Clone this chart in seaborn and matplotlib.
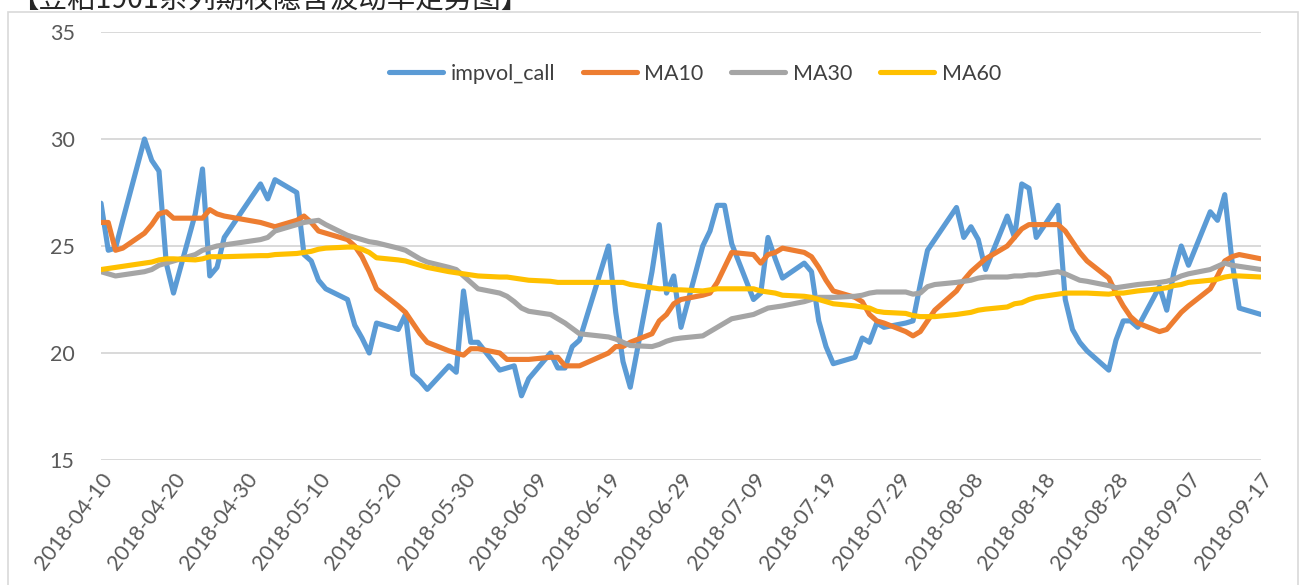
import numpy as np
import pandas as pd
import matplotlib
matplotlib.use("Agg")
import matplotlib.pyplot as plt
import matplotlib.dates as mdates
from matplotlib.patches import Rectangle
import seaborn as sns

# --- data ---
trade_dates = (
    ["2018-04-10", "2018-04-11", "2018-04-12", "2018-04-13", "2018-04-16", "2018-04-17",
     "2018-04-18", "2018-04-19", "2018-04-20", "2018-04-23", "2018-04-24", "2018-04-25",
     "2018-04-26", "2018-04-27"]
    + ["2018-05-02", "2018-05-03", "2018-05-04", "2018-05-07", "2018-05-08", "2018-05-09",
       "2018-05-10", "2018-05-11", "2018-05-14", "2018-05-15", "2018-05-16", "2018-05-17",
       "2018-05-18", "2018-05-21", "2018-05-22", "2018-05-23", "2018-05-24", "2018-05-25",
       "2018-05-28", "2018-05-29", "2018-05-30", "2018-05-31"]
    + ["2018-06-01", "2018-06-04", "2018-06-05", "2018-06-06", "2018-06-07", "2018-06-08",
       "2018-06-11", "2018-06-12", "2018-06-13", "2018-06-14", "2018-06-15", "2018-06-19",
       "2018-06-20", "2018-06-21", "2018-06-22", "2018-06-25", "2018-06-26", "2018-06-27",
       "2018-06-28", "2018-06-29"]
    + ["2018-07-02", "2018-07-03", "2018-07-04", "2018-07-05", "2018-07-06", "2018-07-09",
       "2018-07-10", "2018-07-11", "2018-07-12", "2018-07-13", "2018-07-16", "2018-07-17",
       "2018-07-18", "2018-07-19", "2018-07-20", "2018-07-23", "2018-07-24", "2018-07-25",
       "2018-07-26", "2018-07-27", "2018-07-30", "2018-07-31"]
    + ["2018-08-01", "2018-08-02", "2018-08-03", "2018-08-06", "2018-08-07", "2018-08-08",
       "2018-08-09", "2018-08-10", "2018-08-13", "2018-08-14", "2018-08-15", "2018-08-16",
       "2018-08-17", "2018-08-20", "2018-08-21", "2018-08-22", "2018-08-23", "2018-08-24",
       "2018-08-27", "2018-08-28", "2018-08-29", "2018-08-30", "2018-08-31"]
    + ["2018-09-03", "2018-09-04", "2018-09-05", "2018-09-06", "2018-09-07", "2018-09-10",
       "2018-09-11", "2018-09-12", "2018-09-13", "2018-09-14", "2018-09-17"]
)

impvol_call = [
    27.0, 24.8, 24.9, 26.2, 30.0, 29.0, 28.5, 24.2, 22.8, 26.5, 28.6, 23.6, 24.0, 25.4,
    27.9, 27.2, 28.1, 27.5, 24.6, 24.3, 23.4, 23.0, 22.5, 21.3, 20.7, 20.0, 21.4, 21.1,
    21.8, 19.0, 18.7, 18.3, 19.4, 19.1, 22.9, 20.5,
    20.5, 19.2, 19.3, 19.4, 18.0, 18.8, 20.0, 19.3, 19.3, 20.3, 20.6, 25.0, 21.9, 19.6,
    18.4, 23.8, 26.0, 22.8, 23.6, 21.2,
    25.0, 25.7, 26.9, 26.9, 25.1, 22.5, 22.8, 25.4, 24.4, 23.5, 24.2, 23.8, 21.5, 20.3,
    19.5, 19.8, 20.7, 20.5, 21.4, 21.2, 21.4, 21.5,
    23.2, 24.8, 25.3, 26.8, 25.4, 25.9, 25.3, 23.9, 26.4, 25.4, 27.9, 27.7, 25.4, 26.9,
    22.5, 21.1, 20.5, 20.1, 19.2, 20.6, 21.5, 21.5, 21.2,
    23.1, 22.0, 23.8, 25.0, 24.1, 26.6, 26.2, 27.4, 24.3, 22.1, 21.8,
]

ma10 = [
    26.1, 26.1, 24.8, 24.9, 25.6, 26.0, 26.5, 26.6, 26.3, 26.3, 26.3, 26.7, 26.5, 26.4,
    26.1, 26.0, 25.9, 26.2, 26.4, 26.1, 25.7, 25.6, 25.3, 25.0, 24.5, 23.8, 23.0, 22.2,
    21.9, 21.4, 20.9, 20.5, 20.1, 20.0, 19.9, 20.2,
    20.2, 20.0, 19.7, 19.7, 19.7, 19.7, 19.8, 19.8, 19.4, 19.4, 19.4, 20.0, 20.3, 20.3,
    20.5, 20.9, 21.5, 21.8, 22.3, 22.5,
    22.7, 22.8, 23.3, 24.0, 24.7, 24.6, 24.2, 24.6, 24.7, 24.9, 24.7, 24.5, 24.0, 23.4,
    22.9, 22.6, 22.4, 21.8, 21.5, 21.4, 21.0, 20.8,
    21.0, 21.5, 22.0, 22.9, 23.4, 23.8, 24.1, 24.4, 25.0, 25.4, 25.8, 26.0, 26.0, 26.0,
    25.7, 25.2, 24.7, 24.3, 23.5, 22.8, 22.2, 21.7, 21.4,
    21.0, 21.1, 21.5, 21.9, 22.2, 23.0, 23.6, 24.3, 24.5, 24.6, 24.4,
]

ma30 = [
    23.8, 23.7, 23.6, 23.65, 23.8, 23.9, 24.1, 24.2, 24.3, 24.6, 24.8, 24.9, 25.0, 25.05,
    25.3, 25.4, 25.7, 26.0, 26.1, 26.15, 26.2, 26.0, 25.5, 25.4, 25.3, 25.2, 25.15, 24.9,
    24.8, 24.6, 24.4, 24.25, 24.0, 23.9, 23.6, 23.3,
    23.0, 22.8, 22.65, 22.4, 22.1, 21.95, 21.8, 21.6, 21.4, 21.15, 20.9, 20.75, 20.65, 20.5,
    20.35, 20.3, 20.4, 20.55, 20.65, 20.7,
    20.8, 21.0, 21.2, 21.4, 21.6, 21.8, 21.95, 22.1, 22.15, 22.2, 22.4, 22.5, 22.6, 22.6,
    22.6, 22.65, 22.7, 22.8, 22.85, 22.85, 22.85, 22.75,
    22.8, 23.1, 23.2, 23.3, 23.35, 23.4, 23.5, 23.55, 23.55, 23.6, 23.6, 23.65, 23.65, 23.8,
    23.7, 23.55, 23.4, 23.35, 23.15, 23.05, 23.1, 23.15, 23.2,
    23.3, 23.35, 23.45, 23.6, 23.7, 23.9, 24.05, 24.2, 24.1, 24.05, 23.9,
]

ma60 = [
    23.9, 23.95, 24.0, 24.05, 24.2, 24.25, 24.35, 24.4, 24.4, 24.35, 24.4, 24.5, 24.5, 24.5,
    24.55, 24.55, 24.6, 24.65, 24.7, 24.75, 24.85, 24.9, 24.95, 24.95, 24.85, 24.7, 24.45, 24.35,
    24.3, 24.2, 24.1, 24.0, 23.8, 23.75, 23.7, 23.65,
    23.6, 23.55, 23.55, 23.5, 23.45, 23.4, 23.35, 23.3, 23.3, 23.3, 23.3, 23.3, 23.3, 23.3,
    23.2, 23.05, 23.0, 23.0, 22.95, 22.95,
    22.9, 22.95, 23.0, 23.0, 23.0, 23.0, 22.9, 22.85, 22.8, 22.7, 22.65, 22.6, 22.5, 22.4,
    22.3, 22.2, 22.15, 22.1, 21.95, 21.9, 21.85, 21.75,
    21.7, 21.7, 21.7, 21.8, 21.85, 21.9, 22.0, 22.05, 22.15, 22.3, 22.35, 22.5, 22.6, 22.75,
    22.8, 22.8, 22.8, 22.8, 22.75, 22.8, 22.8, 22.85, 22.9,
    23.0, 23.05, 23.15, 23.2, 23.3, 23.4, 23.45, 23.55, 23.6, 23.6, 23.55,
]

series_names = ["impvol_call", "MA10", "MA30", "MA60"]
series_colors = ["#5B9BD5", "#ED7D31", "#A5A5A5", "#FFC000"]
title_text = "【豆粕1901系列期权隐含波动率走势图】"

# --- build long table ---
df = pd.DataFrame({
    "date": pd.to_datetime(trade_dates),
    "impvol_call": impvol_call,
    "MA10": ma10,
    "MA30": ma30,
    "MA60": ma60,
})
long_df = df.melt(id_vars="date", var_name="series", value_name="value")

sns.set_theme(style="white")
plt.rcParams["font.family"] = ["Lato", "Noto Sans CJK SC", "DejaVu Sans"]

fig = plt.figure(figsize=(13.01, 5.85), dpi=100)
ax = fig.add_axes([101 / 1301, 1 - 460 / 585, 1160 / 1301, 428 / 585])

sns.lineplot(
    data=long_df, x="date", y="value", hue="series",
    hue_order=series_names, palette=series_colors,
    linewidth=3.7, ax=ax, legend=True,
)

# axes styling (Excel-like)
ax.set_ylim(15, 35)
ax.set_yticks([15, 20, 25, 30, 35])
ax.set_xlim(pd.Timestamp("2018-04-10"), pd.Timestamp("2018-09-17"))
ax.set_xticks(pd.date_range("2018-04-10", "2018-09-17", freq="10D"))
ax.xaxis.set_major_formatter(mdates.DateFormatter("%Y-%m-%d"))
ax.grid(axis="y", color="#D9D9D9", linewidth=1.4)
ax.grid(axis="x", visible=False)
for s in ax.spines.values():
    s.set_visible(False)
ax.set_xlabel("")
ax.set_ylabel("")
ax.tick_params(axis="both", length=0, colors="#595959", labelsize=15.5)
ax.tick_params(axis="y", pad=19)
plt.setp(ax.get_xticklabels(), rotation=53, ha="right", va="top",
         rotation_mode="anchor")
ax.tick_params(axis="x", pad=7)

leg = ax.legend(
    loc="center", bbox_to_anchor=(0.512, 0.902), ncol=4, frameon=False,
    fontsize=15.5, handlelength=2.5, columnspacing=1.3, handletextpad=0.35,
)
for t in leg.get_texts():
    t.set_color("#404040")

# chart-area border and the partly cut-off title
fig.patches.append(Rectangle((8 / 1301, -0.05), 1290 / 1301, 1.05 - 12 / 585,
                             transform=fig.transFigure, fill=False,
                             edgecolor="#D9D9D9", linewidth=1.2))
fig.text(10 / 1301, 1 - 8 / 585, title_text, fontsize=20.5, color="#262626",
         ha="left", va="baseline", family=["Noto Sans CJK SC", "DejaVu Sans"])

fig.savefig("out.png", dpi=100)
